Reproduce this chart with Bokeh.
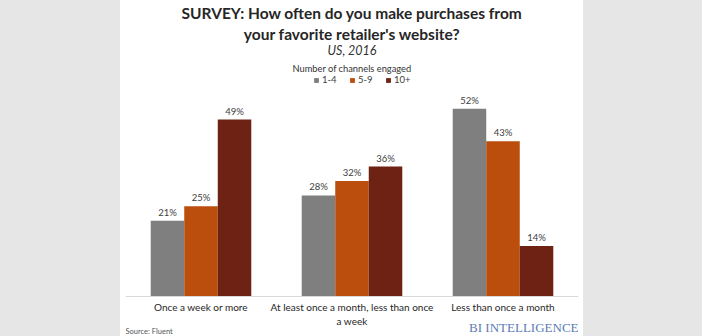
from bokeh.plotting import figure
from bokeh.models import (ColumnDataSource, Legend, LegendItem, Label, Range1d, Spacer)
from bokeh.transform import dodge
from bokeh.layouts import row
from bokeh.core.properties import value
from bokeh.embed import file_html
from bokeh.resources import INLINE

categories = ["Once a week or more",
              "At least once a month, less than once\na week",
              "Less than once a month"]
series_names = ["1-4", "5-9", "10+"]
vals_1_4 = [21, 28, 52]
vals_5_9 = [25, 32, 43]
vals_10p = [49, 36, 14]
colors = ["#7f7f7f", "#bb4e0c", "#6e2213"]

FONT = "Lato"
W = 463
H = 336
PX = 3.61  # pixels per percentage point
p = figure(x_range=categories, y_range=Range1d(-40 / PX, 296 / PX), width=W, height=H,
           output_backend="svg", toolbar_location=None,
           min_border_left=5, min_border_right=5, min_border_top=0, min_border_bottom=0,
           outline_line_color=None, background_fill_color="white", border_fill_color="white")

src = ColumnDataSource(dict(cat=categories, a=vals_1_4, b=vals_5_9, c=vals_10p,
                            la=[f"{v}%" for v in vals_1_4],
                            lb=[f"{v}%" for v in vals_5_9],
                            lc=[f"{v}%" for v in vals_10p]))
bw = 0.222
renderers = []
for off, col, lab, color in [(-bw, "a", "la", colors[0]), (0, "b", "lb", colors[1]), (bw, "c", "lc", colors[2])]:
    r = p.vbar(x=dodge("cat", off, range=p.x_range), top=col, bottom=0, width=bw, source=src,
               fill_color=color, line_color=None)
    renderers.append(r)
    p.text(x=dodge("cat", off, range=p.x_range), y=col, text=lab, source=src,
           text_align="center", text_baseline="bottom", y_offset=-3,
           text_font=value(FONT), text_font_size="9.5px", text_color="#404040")

p.yaxis.visible = False
p.grid.visible = False
p.xaxis.fixed_location = 0
p.xaxis.axis_line_color = "#d9d9d9"
p.xaxis.major_tick_line_color = None
p.xaxis.minor_tick_line_color = None
p.xaxis.major_tick_out = 0
p.xaxis.major_tick_in = 0
p.xaxis.major_label_text_font = FONT
p.xaxis.major_label_text_font_size = "10px"
p.xaxis.major_label_text_color = "#262626"
p.xaxis.major_label_standoff = 4

legend = Legend(items=[LegendItem(label=n, renderers=[r]) for n, r in zip(series_names, renderers)],
                orientation="horizontal", location=(186, 249),
                border_line_alpha=0, background_fill_alpha=0,
                glyph_width=6, glyph_height=6, label_text_font=FONT,
                label_text_font_size="9.5px", label_text_color="#404040",
                spacing=7, padding=2, margin=0, label_standoff=3, label_height=10)
p.add_layout(legend, "center")

cx = (W - 10) / 2
def lab(text, y, size, style="normal", color="#262626", font=FONT, x=cx, align="center"):
    # y is the page row of the text's middle; converted to screen units from the frame bottom
    p.add_layout(Label(x=x, y=H - y, x_units="screen", y_units="screen", text=text,
                       text_align=align, text_baseline="middle", text_font=font,
                       text_font_size=size, text_font_style=style, text_color=color))

lab("SURVEY: How often do you make purchases from", 12, "15.5px", "bold")
lab("your favorite retailer's website?", 33, "15.5px", "bold")
lab("US, 2016", 50, "12.5px", "italic", "#333333")
lab("Number of channels engaged", 68, "9.3px", "normal", "#333333")
lab("BI INTELLIGENCE", 327, "13px", "normal", "#5b7cb6", "Liberation Serif", x=453, align="right")
lab("Source: Fluent", 331, "7.5px", "normal", "#555555", FONT, x=0, align="left")

left = Spacer(width=120, height=H, styles={"background-color": "#e6e6e6"})
right = Spacer(width=119, height=H, styles={"background-color": "#e6e6e6"})
layout = row(left, p, right)

open("out.html", "w").write(file_html(layout, INLINE))
